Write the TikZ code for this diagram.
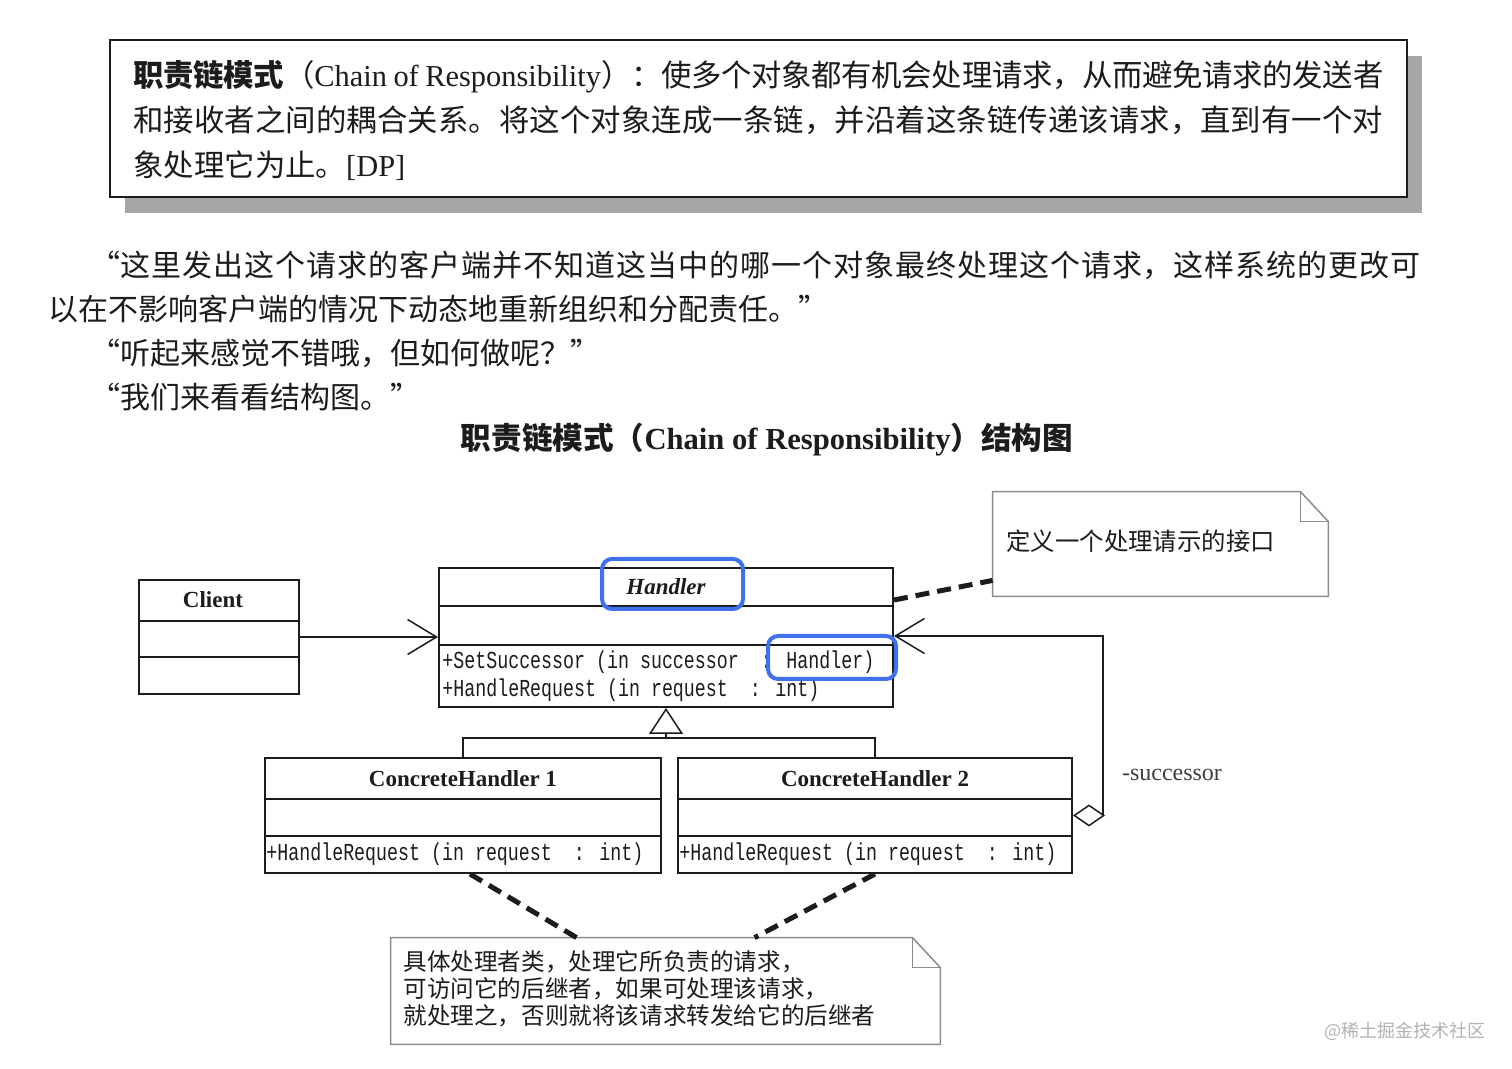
\documentclass[tikz,border=0pt]{standalone}
\usepackage{fontspec}
\setmainfont{Liberation Serif}
\newfontfamily\cjk{Noto Sans CJK SC}
\newfontfamily\opfont[FakeStretch=0.75]{Liberation Mono}
\XeTeXlinebreaklocale "zh"
\XeTeXlinebreakskip=0pt plus 1pt minus 0.4pt
\usepackage{tikz}
\usetikzlibrary{arrows.meta,positioning,calc,shadows}
\definecolor{inkgray}{HTML}{1C1C1C}
\definecolor{notegray}{HTML}{8C8C8C}
\definecolor{markblue}{RGB}{64,112,236}
\tikzset{
  defbox/.style={draw=inkgray,line width=1.3pt,fill=white,inner sep=0pt,
    drop shadow={shadow xshift=7.5pt,shadow yshift=-8pt,fill=gray!70,opacity=1}},
  deftext/.style={anchor=north west,inner sep=0pt,text width=625pt,align=justify,text=inkgray,
    font=\cjk\fontsize{15.2}{22.5}\selectfont},
  bodytext/.style={anchor=north west,inner sep=0pt,text width=686pt,align=justify,text=inkgray,
    font=\cjk\fontsize{15}{22}\selectfont},
  charttitle/.style={inner sep=0pt,text=inkgray,font=\cjk\bfseries\fontsize{15.3}{18}\selectfont},
  classbox/.style={draw=inkgray,line width=1pt,inner sep=0pt},
  compline/.style={draw=inkgray,line width=1pt},
  classname/.style={inner sep=0pt,text=inkgray,font=\bfseries\fontsize{11.5}{13}\selectfont},
  opline/.style={anchor=west,inner sep=0pt,text=inkgray,font=\opfont\fontsize{12.2}{14}\selectfont},
  markbox/.style={draw=markblue,line width=2pt,rounded corners=5pt,inner sep=0pt},
  relline/.style={draw=inkgray,line width=0.75pt},
  assocarrow/.style={relline,-{Straight Barb[length=14.5pt,width=17.5pt]}},
  genarrow/.style={relline,-{Triangle[open,length=13pt,width=17pt,fill=white]}},
  aggarrow/.style={relline,{Diamond[open,length=16pt,width=11pt,fill=white]}-{Straight Barb[length=14.5pt,width=17.5pt]}},
  notebox/.style={inner sep=0pt},
  noteline/.style={draw=notegray,line width=0.75pt},
  notetext/.style={anchor=west,inner sep=0pt,align=left,text=inkgray,font=\cjk\fontsize{11.8}{13.5}\selectfont},
  notelink/.style={draw=inkgray,line width=2.5pt,dash pattern=on 7pt off 4pt},
  rolelabel/.style={inner sep=0pt,text=inkgray!85,font=\fontsize{12}{14}\selectfont},
  watermark/.style={inner sep=0pt,text=gray!60,font=\cjk\fontsize{9}{11}\selectfont}
}

\begin{document}
\begin{tikzpicture}[x=0.5pt,y=-0.5pt]
  \useasboundingbox[fill=white] (0,0) rectangle (1512,1069);
  \node[defbox,minimum width=648.5pt,minimum height=78.5pt] (defnode) at (758.5,118.5) {};
  \node[deftext] (deftxt) at (133,60) {{\bfseries 职责链模式}（{\rmfamily Chain of Responsibility}）：使多个对象都有机会处理请求，从而避免请求的发送者\linebreak 和接收者之间的耦合关系。将这个对象连成一条链，并沿着这条链传递该请求，直到有一个对\linebreak 象处理它为止。{\rmfamily [DP]}};
  \node[bodytext] (body) at (48,251) {\hspace*{21pt}“这里发出这个请求的客户端并不知道这当中的哪一个对象最终处理这个请求，这样系统的更改可\linebreak 以在不影响客户端的情况下动态地重新组织和分配责任。”\\ \hspace*{21pt}“听起来感觉不错哦，但如何做呢？”\\ \hspace*{21pt}“我们来看看结构图。”};
  \node[charttitle] (title) at (767,440) {职责链模式（{\rmfamily Chain of Responsibility}）结构图};

  \begin{scope}
    \node[classbox,minimum width=80pt,minimum height=57pt] (client) at (219,637) {};
    \node[classbox,minimum width=227pt,minimum height=69.5pt] (handler) at (666,637.5) {};
    \node[classbox,minimum width=198pt,minimum height=57.5pt] (ch1) at (463,815.5) {};
    \node[classbox,minimum width=197pt,minimum height=57.5pt] (ch2) at (875,815.5) {};
    \foreach \cls/\first/\second in {client/21/39,handler/19.5/39,ch1/21/39.5,ch2/21/39.5} {
      \draw[compline] ([yshift=-\first pt]\cls.north west) -- ([yshift=-\first pt]\cls.north east);
      \draw[compline] ([yshift=-\second pt]\cls.north west) -- ([yshift=-\second pt]\cls.north east);
    }
    \node[classname] (clientname) at ([xshift=-3pt,yshift=-10.5pt]client.north) {Client};
    \node[classname] (handlername) at ([yshift=-9.75pt]handler.north) {\itshape Handler};
    \node[classname] (ch1name) at ([yshift=-11pt]ch1.north) {ConcreteHandler 1};
    \node[classname] (ch2name) at ([yshift=-11pt]ch2.north) {ConcreteHandler 2};
    \node[opline] (setop) at ([xshift=2pt,yshift=-47.5pt]handler.north west) {+SetSuccessor (in successor~~: Handler)};
    \node[opline] (handleop) at ([xshift=2pt,yshift=-61.5pt]handler.north west) {+HandleRequest (in request~~: int)};
    \node[opline] (ch1op) at ([xshift=1pt,yshift=-48.5pt]ch1.north west) {+HandleRequest (in request~~: int)};
    \node[opline] (ch2op) at ([xshift=1pt,yshift=-48.5pt]ch2.north west) {+HandleRequest (in request~~: int)};

    \draw[assocarrow] (client.east) -- (client.east -| handler.west);
    \coordinate (genbar) at (666,738);
    \draw[relline] (ch1.north) |- (genbar) -| (ch2.north);
    \draw[genarrow] (genbar) -- (handler.south);
    \coordinate (succturn) at (1103,636);
    \draw[aggarrow] (ch2.east) -| (succturn) -- (succturn -| handler.east);
    \node[rolelabel] (succlabel) at (1172,775) {-successor};

    \node[markbox,minimum width=70.5pt,minimum height=25pt] (markname) at (672.5,584) {};
    \node[markbox,minimum width=64pt,minimum height=21.5pt] (marktype) at (832,657.5) {};
  \end{scope}

  \node[notebox,minimum width=167.5pt,minimum height=52pt] (note1) at (1160.5,544) {};
  \node[notebox,minimum width=274.5pt,minimum height=53pt] (note2) at (665.5,991) {};
  \foreach \nt in {note1,note2} {
    \draw[noteline] (\nt.north west) -- ([xshift=-14pt]\nt.north east) -- ([yshift=-15pt]\nt.north east) -- (\nt.south east) -- (\nt.south west) -- cycle;
    \draw[noteline] ([xshift=-14pt]\nt.north east) |- ([yshift=-15pt]\nt.north east);
  }
  \node[notetext,font=\cjk\fontsize{12.2}{14}\selectfont] (note1text) at (1006,541) {定义一个处理请示的接口};
  \node[notetext] (note2text) at (403,988.5) {具体处理者类，处理它所负责的请求，\\可访问它的后继者，如果可处理该请求，\\就处理之，否则就将该请求转发给它的后继者};
  \draw[notelink] ([yshift=-16.5pt]handler.north east) -- ([yshift=8pt]note1.south west);
  \draw[notelink] ([xshift=3.5pt]ch1.south) -- ([xshift=93pt]note2.north west);
  \draw[notelink] (ch2.south) -- ([xshift=182pt]note2.north west);

  \node[watermark] (mark) at (1405,1031) {@稀土掘金技术社区};
\end{tikzpicture}
\end{document}
